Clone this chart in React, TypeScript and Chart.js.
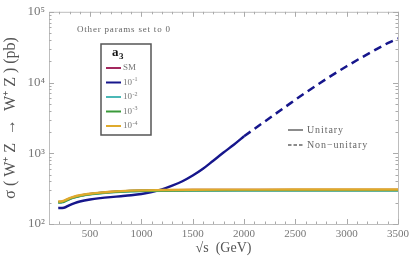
import { useEffect, useRef } from 'react';
import { Chart, registerables } from 'chart.js';
Chart.register(...registerables);

// sqrt(s) grid (GeV) for the flat curves
const sqrtS = [190, 230, 260, 300, 350, 400, 450, 500, 600, 700, 800, 1000, 1200, 1500, 2000, 2500, 3000, 3500];
const smValues = [204, 206, 214, 228, 241, 251, 259, 265, 275, 283, 289, 296, 299, 302, 303, 303, 303, 303];
const a3m2Values = [200, 202, 210, 224, 238, 248, 256, 262, 272, 280, 286, 292, 295, 297, 297, 297, 297, 297];
const a3m3Values = [203, 205, 213, 227, 240, 250, 258, 264, 274, 282, 288, 295, 298, 300, 301, 301, 301, 301];
const a3m4Values = [208, 210, 218, 232, 245, 255, 262, 268, 278, 286, 292, 299, 302, 305, 306, 307, 307, 307];

// a3 = 10^-1 : unitary (solid) part
const blueX = [190, 245, 300, 350, 400, 500, 600, 700, 800, 900, 1000, 1100, 1200, 1300, 1400, 1500, 1600, 1700, 1800, 1900, 2000];
const blueY = [168, 170, 185, 198, 208, 222, 232, 240, 247, 255, 266, 283, 308, 348, 402, 484, 603, 785, 1023, 1320, 1740];
// a3 = 10^-1 : non-unitary (dashed) part
const blueDashX = [2000, 2200, 2400, 2600, 2800, 3000, 3200, 3400, 3500];
const blueDashY = [1740, 2800, 4500, 7200, 11200, 17000, 25000, 36000, 42000];

const xTicks = [500, 1000, 1500, 2000, 2500, 3000, 3500];
const yTicks = [100, 1000, 10000, 100000];
const supDigits: Record<string, string> = { '0': '⁰', '1': '¹', '2': '²', '3': '³', '4': '⁴', '5': '⁵', '-': '⁻' };

const C_SM = '#a3285e';
const C_BLUE = '#16168c';
const C_TEAL = '#4bb8b6';
const C_GREEN = '#3a9a3a';
const C_GOLD = '#dfaa2c';

const zip = (xs: number[], ys: number[]) => xs.map((x, i) => ({ x, y: ys[i] }));

const framePlugin = {
  id: 'frame',
  beforeDatasetsDraw(chart: any) {
    const { ctx, chartArea: a, scales } = chart;
    const xs = scales.x, ys = scales.y;
    ctx.save();
    ctx.strokeStyle = '#bdbdbd';
    ctx.lineWidth = 1;
    ctx.strokeRect(a.left + 0.5, a.top + 0.5, a.right - a.left, a.bottom - a.top);
    ctx.strokeStyle = '#aaaaaa';
    ctx.beginPath();
    for (let v = 200; v <= 3500; v += 100) {
      const px = Math.round(xs.getPixelForValue(v)) + 0.5;
      const len = v % 500 === 0 ? 5 : 2.5;
      ctx.moveTo(px, a.bottom); ctx.lineTo(px, a.bottom - len);
      ctx.moveTo(px, a.top); ctx.lineTo(px, a.top + len);
    }
    for (let d = 100; d <= 100000; d *= 10) {
      for (let m = 1; m <= 9; m++) {
        const v = d * m;
        if (v > 100000) break;
        const py = Math.round(ys.getPixelForValue(v)) + 0.5;
        const len = m === 1 ? 5 : 2.5;
        ctx.moveTo(a.left, py); ctx.lineTo(a.left + len, py);
        ctx.moveTo(a.right, py); ctx.lineTo(a.right - len, py);
      }
    }
    ctx.stroke();
    ctx.restore();
  },
  afterDraw(chart: any) {
    const { ctx } = chart;
    ctx.save();
    const font = (s: number, w = '') => `${w} ${s}px "Liberation Serif", serif`;
    ctx.fillStyle = '#666';
    ctx.textBaseline = 'middle';
    (ctx as any).letterSpacing = '0.8px';
    ctx.font = font(9);
    ctx.fillText('Other params set to 0', 77, 30);

    // a3 legend box
    ctx.strokeStyle = '#555';
    ctx.lineWidth = 1.5;
    ctx.strokeRect(101, 44, 50, 91);
    (ctx as any).letterSpacing = '0px';
    ctx.fillStyle = '#111';
    ctx.font = font(13, 'bold');
    ctx.fillText('a', 112, 53);
    ctx.font = font(9, 'bold');
    ctx.fillText('3', 119, 57);
    const entries: [string, string | null, string][] = [
      ['SM', null, C_SM],
      ['10', '-1', C_BLUE],
      ['10', '-2', C_TEAL],
      ['10', '-3', C_GREEN],
      ['10', '-4', C_GOLD],
    ];
    entries.forEach(([t, sup, col], i) => {
      const y = 68 + i * 14.5;
      ctx.strokeStyle = col;
      ctx.lineWidth = 2;
      ctx.beginPath();
      ctx.moveTo(106, y); ctx.lineTo(121, y);
      ctx.stroke();
      ctx.fillStyle = '#777';
      ctx.font = font(9);
      ctx.fillText(t, 123, y);
      if (sup) {
        const w = ctx.measureText(t).width;
        ctx.font = font(6);
        ctx.fillText(sup, 123 + w + 0.5, y - 3);
      }
    });

    // Unitary / Non-unitary legend
    ctx.strokeStyle = '#666';
    ctx.lineWidth = 1.5;
    ctx.beginPath();
    ctx.moveTo(288, 130); ctx.lineTo(303, 130);
    ctx.stroke();
    ctx.setLineDash([3.5, 2]);
    ctx.beginPath();
    ctx.moveTo(288, 145); ctx.lineTo(303, 145);
    ctx.stroke();
    ctx.setLineDash([]);
    ctx.fillStyle = '#666';
    (ctx as any).letterSpacing = '0.9px';
    ctx.font = font(10);
    ctx.fillText('Unitary', 307, 130);
    ctx.fillText('Non\u2212unitary', 307, 145);
    ctx.restore();
  },
};

export default function App() {
  const ref = useRef<HTMLCanvasElement>(null);
  useEffect(() => {
    document.body.style.margin = '0';
    const line = (data: any[], color: string, extra: any = {}) => ({
      data,
      borderColor: color,
      backgroundColor: color,
      borderWidth: 2.4,
      pointRadius: 0,
      cubicInterpolationMode: 'monotone',
      fill: false,
      ...extra,
    });
    const chart = new Chart(ref.current!, {
      type: 'line',
      data: {
        datasets: [
          line(zip(sqrtS, a3m4Values), C_GOLD, { label: '1e-4' }),
          line(zip(sqrtS, a3m3Values), C_GREEN, { label: '1e-3' }),
          line(zip(sqrtS, a3m2Values), C_TEAL, { label: '1e-2' }),
          line(zip(blueX, blueY), C_BLUE, { label: '1e-1' }),
          line(zip(blueDashX, blueDashY), C_BLUE, { label: '1e-1 nu', borderDash: [8, 5], borderWidth: 2.5 }),
          line(zip(sqrtS, smValues), C_SM, { label: 'SM' }),
        ],
      },
      options: {
        animation: false,
        responsive: false,
        devicePixelRatio: 1,
        layout: { padding: { top: 8, right: 15, left: 0, bottom: 0 } },
        plugins: { legend: { display: false }, tooltip: { enabled: false } },
        scales: {
          x: {
            type: 'linear',
            min: 100,
            max: 3500,
            grid: { display: false, drawTicks: false },
            border: { display: false },
            afterBuildTicks: (s: any) => { s.ticks = xTicks.map((v) => ({ value: v })); },
            afterFit: (s: any) => { s.height = 39; },
            ticks: {
              padding: 4,
              maxRotation: 0,
              color: '#777',
              font: { family: '"Liberation Serif", serif', size: 11 },
              callback: (v: any) => String(v),
            },
            title: {
              display: true,
              text: '√s  (GeV)',
              color: '#555',
              font: { family: '"Liberation Serif", serif', size: 14 },
              padding: { top: 0, bottom: 6 },
            },
          },
          y: {
            type: 'logarithmic',
            min: 100,
            max: 100000,
            grid: { display: false, drawTicks: false },
            border: { display: false },
            afterBuildTicks: (s: any) => { s.ticks = yTicks.map((v) => ({ value: v })); },
            afterFit: (s: any) => { s.width = 49; },
            ticks: {
              padding: 4,
              color: '#777',
              font: { family: '"Liberation Serif", serif', size: 13 },
              callback: (v: any) => {
                const e = String(Math.round(Math.log10(Number(v))));
                return '10' + e.split('').map((c) => supDigits[c]).join('');
              },
            },
            title: {
              display: true,
              text: 'σ ( W⁺ Z  →  W⁺ Z ) (pb)',
              color: '#555',
              font: { family: '"Liberation Serif", serif', size: 16 },
              padding: { top: 1, bottom: 0 },
            },
          },
        },
      } as any,
      plugins: [framePlugin],
    });
    return () => chart.destroy();
  }, []);
  return (
    <div style={{ width: 413, height: 263 }}>
      <canvas ref={ref} width={413} height={263} style={{ display: 'block' }} />
    </div>
  );
}
